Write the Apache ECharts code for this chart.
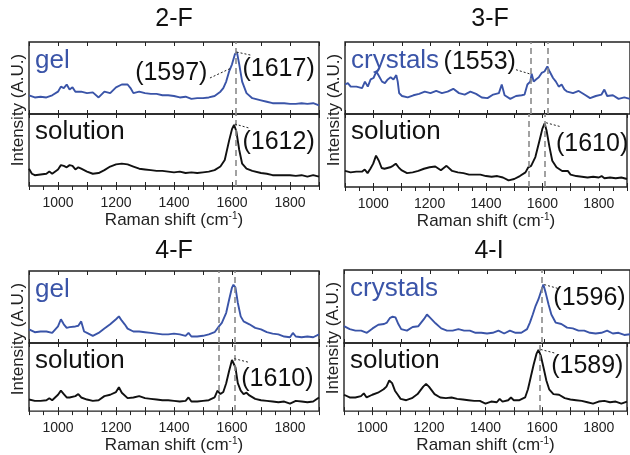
<!DOCTYPE html>
<html>
<head>
<meta charset="utf-8">
<script src="https://cdn.jsdelivr.net/npm/echarts@6/dist/echarts.min.js"></script>
<style>
  html, body { margin: 0; padding: 0; background: #fff; }
  #chart { width: 630px; height: 455px; }
</style>
</head>
<body>
<div id="chart"></div>
<script>
// x range / ticks (Raman shift, cm-1)
const xMin = 900;
const xMax = 1900;
const xStep = 100;

// spectra: [shift, intensity (0-100 of the sub-panel)]
const gel2F = [[900,26],[920,23],[940,24],[960,23],[980,26],[1000,31],[1010,38],[1020,36],[1030,41],[1040,34],[1050,37],[1060,31],[1080,31],[1100,29],[1120,30],[1140,23],[1160,31],[1180,29],[1200,37],[1220,41],[1240,41],[1250,36],[1260,29],[1280,31],[1300,29],[1320,28],[1340,28],[1360,26],[1380,26],[1400,25],[1420,23],[1440,24],[1460,21],[1480,22],[1500,22],[1520,23],[1540,25],[1560,31],[1570,36],[1580,45],[1590,59],[1600,69],[1610,83],[1617,86],[1625,69],[1635,45],[1650,29],[1670,22],[1700,19],[1720,17],[1740,15],[1760,15],[1780,15],[1800,14],[1820,14],[1840,15],[1860,14],[1880,15],[1900,12]];
const sol2F = [[900,24],[910,17],[920,15],[940,16],[960,17],[970,20],[980,17],[1000,23],[1010,29],[1020,28],[1030,26],[1040,29],[1050,28],[1060,23],[1070,26],[1080,24],[1100,20],[1120,17],[1140,18],[1160,22],[1180,27],[1200,30],[1220,31],[1240,30],[1260,27],[1280,24],[1300,23],[1320,22],[1340,21],[1360,21],[1380,20],[1400,19],[1420,20],[1440,18],[1460,19],[1480,18],[1500,19],[1520,20],[1540,22],[1560,27],[1575,36],[1590,63],[1600,79],[1607,85],[1615,76],[1625,50],[1635,31],[1650,24],[1670,21],[1700,18],[1720,17],[1740,15],[1760,15],[1780,15],[1800,15],[1820,14],[1840,15],[1860,13],[1880,15],[1900,13]];
const cry3F = [[900,41],[910,43],[920,38],[940,38],[960,36],[970,45],[980,38],[990,48],[1000,50],[1010,59],[1015,57],[1020,52],[1030,45],[1040,43],[1050,48],[1060,51],[1070,48],[1080,54],[1085,45],[1090,29],[1100,25],[1120,23],[1140,26],[1160,28],[1180,31],[1200,29],[1220,32],[1240,29],[1260,31],[1280,35],[1300,29],[1320,27],[1340,31],[1360,28],[1380,23],[1400,22],[1420,27],[1440,29],[1450,41],[1460,26],[1480,21],[1500,25],[1520,26],[1530,27],[1540,41],[1550,45],[1555,56],[1562,45],[1570,48],[1580,51],[1590,57],[1600,59],[1610,66],[1618,59],[1630,50],[1640,45],[1650,38],[1660,41],[1670,34],[1680,31],[1700,29],[1720,32],[1740,27],[1760,22],[1780,25],[1800,27],[1810,34],[1820,25],[1840,26],[1860,21],[1880,23],[1900,21]];
const sol3F = [[900,22],[920,20],[940,21],[960,21],[970,24],[980,19],[990,25],[1000,32],[1010,43],[1020,36],[1030,26],[1040,25],[1060,27],[1070,29],[1080,32],[1090,27],[1100,23],[1120,19],[1140,20],[1160,22],[1180,25],[1200,27],[1220,28],[1240,23],[1260,29],[1280,22],[1300,20],[1320,19],[1340,17],[1360,17],[1380,17],[1400,15],[1420,14],[1440,15],[1460,13],[1480,9],[1500,11],[1520,15],[1540,20],[1550,27],[1560,29],[1575,41],[1590,64],[1600,80],[1608,87],[1615,77],[1625,55],[1635,36],[1650,27],[1670,22],[1690,22],[1700,17],[1720,15],[1740,14],[1760,13],[1780,14],[1800,13],[1810,15],[1820,12],[1840,13],[1860,12],[1880,13],[1900,11]];
const gel4F = [[900,19],[920,15],[940,16],[960,16],[980,14],[1000,23],[1010,33],[1020,26],[1030,21],[1040,22],[1060,23],[1070,24],[1080,30],[1090,16],[1100,14],[1120,10],[1140,14],[1160,20],[1180,26],[1200,33],[1210,37],[1220,31],[1230,26],[1240,20],[1260,16],[1280,16],[1300,15],[1320,14],[1340,13],[1360,12],[1380,12],[1400,13],[1420,12],[1440,10],[1450,14],[1460,9],[1480,9],[1500,10],[1520,12],[1540,15],[1555,23],[1565,28],[1580,42],[1590,60],[1600,77],[1605,81],[1612,77],[1620,56],[1630,37],[1640,30],[1660,26],[1680,21],[1700,19],[1720,15],[1740,13],[1760,12],[1780,9],[1800,8],[1810,14],[1820,9],[1840,8],[1860,9],[1880,8],[1900,12]];
const sol4F = [[900,17],[920,15],[940,15],[960,16],[970,19],[980,16],[1000,24],[1010,30],[1020,25],[1030,20],[1040,20],[1060,22],[1070,25],[1080,20],[1100,17],[1120,15],[1140,16],[1160,22],[1180,24],[1200,28],[1210,35],[1220,27],[1240,19],[1260,20],[1280,22],[1300,19],[1320,18],[1340,17],[1360,16],[1380,16],[1400,15],[1420,14],[1440,15],[1450,20],[1460,14],[1480,14],[1500,15],[1520,16],[1540,20],[1550,30],[1560,25],[1570,28],[1580,41],[1590,59],[1600,75],[1605,77],[1612,64],[1620,41],[1630,30],[1640,25],[1650,27],[1660,23],[1680,18],[1700,16],[1720,15],[1740,14],[1760,13],[1780,14],[1800,11],[1820,15],[1840,14],[1860,13],[1880,14],[1900,20]];
const cry4I = [[900,23],[920,19],[940,17],[960,17],[980,14],[1000,20],[1020,25],[1040,26],[1050,28],[1060,34],[1070,36],[1080,35],[1090,26],[1100,19],[1120,17],[1140,22],[1160,23],[1180,33],[1190,39],[1200,35],[1220,27],[1240,20],[1260,17],[1280,17],[1300,19],[1320,17],[1340,17],[1360,14],[1380,14],[1400,13],[1420,14],[1440,17],[1460,13],[1480,17],[1500,14],[1520,14],[1540,19],[1550,28],[1560,39],[1570,51],[1580,60],[1590,72],[1597,80],[1605,69],[1615,53],[1625,39],[1640,28],[1660,26],[1680,21],[1700,20],[1720,17],[1740,17],[1760,14],[1780,13],[1800,14],[1820,17],[1840,13],[1860,14],[1880,11],[1900,12]];
const sol4I = [[900,24],[920,20],[940,20],[960,22],[970,26],[980,20],[1000,24],[1020,27],[1040,32],[1050,36],[1060,45],[1070,41],[1080,30],[1090,24],[1100,18],[1120,16],[1140,19],[1160,25],[1180,36],[1190,40],[1200,36],[1220,25],[1240,20],[1260,19],[1280,20],[1300,18],[1320,17],[1340,16],[1360,15],[1380,15],[1400,11],[1420,14],[1440,13],[1450,18],[1460,14],[1480,16],[1490,20],[1500,16],[1520,16],[1540,20],[1550,32],[1560,50],[1570,68],[1580,84],[1587,90],[1595,82],[1605,64],[1615,45],[1625,32],[1640,25],[1660,24],[1680,19],[1700,17],[1720,16],[1740,15],[1760,13],[1780,11],[1800,14],[1820,15],[1840,13],[1860,14],[1880,11],[1900,14]];

// dashed reference lines (cm-1)
const lines2F = [1612];
const lines3F = [1553, 1610];
const lines4F = [1553, 1610];
const lines4I = [1593];

// peak labels
const labels2Fgel = ['(1597)', '(1617)'];
const labels2Fsol = ['(1612)'];
const labels3Fcry = ['(1553)'];
const labels3Fsol = ['(1610)'];
const labels4Fsol = ['(1610)'];
const labels4Icry = ['(1596)'];
const labels4Isol = ['(1589)'];

const FONT = 'Liberation Sans, Arial, sans-serif';
const BLUE = '#3a54a8';
const INK = '#111';

// panel layout; annotation anchors are given in data units of each sub-panel
const panels = [
  { title: '2-F', titleY: 19, left: 29, top: 42, h: [72, 72],
    upper: { name: 'gel', data: gel2F, color: BLUE, texts: labels2Fgel,
      at: [[1266, 57], [1636, 62.5]], leaders: [[[1524, 50], [1593, 63]], [[1616, 86], [1668, 81.5]]] },
    lower: { name: 'solution', data: sol2F, color: INK, texts: labels2Fsol,
      at: [[1636, 61]], leaders: [[[1610, 86], [1659, 80.5]]] },
    lines: lines2F },
  { title: '3-F', titleY: 19, left: 345, top: 42, h: [72, 73],
    upper: { name: 'crystals', data: cry3F, color: BLUE, texts: labels3Fcry,
      at: [[1246, 72]], leaders: [[[1500, 61.5], [1550, 55.5]]] },
    lower: { name: 'solution', data: sol3F, color: INK, texts: labels3Fsol,
      at: [[1648, 59]], leaders: [[[1613, 88], [1665, 82.6]]] },
    lines: lines3F },
  { title: '4-F', titleY: 251, left: 29, top: 271, h: [72, 74],
    upper: { name: 'gel', data: gel4F, color: BLUE, texts: [], at: [], leaders: [] },
    lower: { name: 'solution', data: sol4F, color: INK, texts: labels4Fsol,
      at: [[1632, 47]], leaders: [[[1608, 77], [1659, 71.5]]] },
    lines: lines4F },
  { title: '4-I', titleY: 251, left: 344, top: 270, h: [73, 74],
    upper: { name: 'crystals', data: cry4I, color: BLUE, texts: labels4Icry,
      at: [[1632, 61.5]], leaders: [[[1600, 80], [1655, 74]]] },
    lower: { name: 'solution', data: sol4I, color: INK, texts: labels4Isol,
      at: [[1632, 66]], leaders: [[[1595, 90.5], [1647, 85]]] },
    lines: lines4I }
];

const grids = [], xAxes = [], yAxes = [], series = [], graphics = [];

function baseX(gridIndex, position) {
  return {
    type: 'value', gridIndex, position, min: xMin, max: xMax, interval: xStep,
    axisLine: { show: false },
    axisTick: { show: true, inside: true, length: 4, lineStyle: { color: '#222', width: 1 } },
    axisLabel: { show: false },
    splitLine: { show: false }
  };
}

panels.forEach((p) => {
  [p.upper, p.lower].forEach((sub, k) => {
    const gi = grids.length;
    const top = k === 0 ? p.top : p.top + p.h[0];
    grids.push({ left: p.left, top, width: 290, height: p.h[k], show: true,
      borderColor: '#222', borderWidth: 1.4, backgroundColor: 'transparent' });
    const xi = xAxes.length;
    xAxes.push(baseX(gi, 'bottom'));
    xAxes.push(baseX(gi, 'top'));
    if (k === 1) {
      xAxes.push(Object.assign(baseX(gi, 'bottom'), {
        axisTick: { show: true, inside: false, length: 4, lineStyle: { color: '#222' } },
        minorTick: { show: true, splitNumber: 2, length: 4, lineStyle: { color: '#222' } },
        axisLabel: { show: true, margin: 10, color: '#222', fontSize: 14, fontFamily: FONT,
          formatter: (v) => (v % 200 === 0 ? String(v) : '') },
        name: 'Raman shift (cm{sup|-1})', nameLocation: 'middle', nameGap: 24,
        nameTextStyle: { color: '#222', fontSize: 17, fontFamily: FONT,
          rich: { sup: { fontSize: 10, fontFamily: FONT, color: '#222', padding: [0, 0, 9, 0] } } }
      }));
    }
    const yi = yAxes.length;
    yAxes.push({ type: 'value', gridIndex: gi, min: 0, max: 100, show: false });

    const mlData = p.lines.map((v) => ({ xAxis: v,
      lineStyle: { type: [6, 4], color: '#8a8a8a', width: 1.6 } }));
    sub.leaders.forEach((l) => {
      mlData.push([{ coord: l[0], lineStyle: { type: [2, 2], color: '#222', width: 1 } }, { coord: l[1] }]);
    });

    series.push({
      type: 'line', xAxisIndex: xi, yAxisIndex: yi, data: sub.data,
      showSymbol: false, symbol: 'none',
      lineStyle: { color: sub.color, width: 1.9 },
      markLine: { silent: true, symbol: ['none', 'none'], label: { show: false }, data: mlData },
      markPoint: { silent: true, symbol: 'circle', symbolSize: 0,
        data: sub.texts.map((t, i) => ({ coord: sub.at[i], value: t,
          label: { show: true, formatter: t, position: 'right', distance: 0,
            color: INK, fontSize: 25, fontFamily: FONT } })) }
    });

    graphics.push({ type: 'text', x: p.left + 6, y: top + (k === 0 ? 19 : 18),
      style: { text: sub.name, fill: sub.color, fontSize: 26, fontFamily: FONT,
        textAlign: 'left', textVerticalAlign: 'middle' } });
  });

  graphics.push({ type: 'text', x: p.left + 145, y: p.titleY,
    style: { text: p.title, fill: INK, fontSize: 25, fontFamily: FONT,
      textAlign: 'center', textVerticalAlign: 'middle' } });
  graphics.push({ type: 'text', x: p.left - 11, y: p.top + 68, rotation: Math.PI / 2,
    style: { text: 'Intensity (A.U.)', fill: '#222', fontSize: 17, fontFamily: FONT,
      textAlign: 'center', textVerticalAlign: 'middle' } });
});

const chart = echarts.init(document.getElementById('chart'));
chart.setOption({
  animation: false,
  backgroundColor: '#fff',
  grid: grids,
  xAxis: xAxes,
  yAxis: yAxes,
  series,
  graphic: graphics
});
</script>
</body>
</html>
